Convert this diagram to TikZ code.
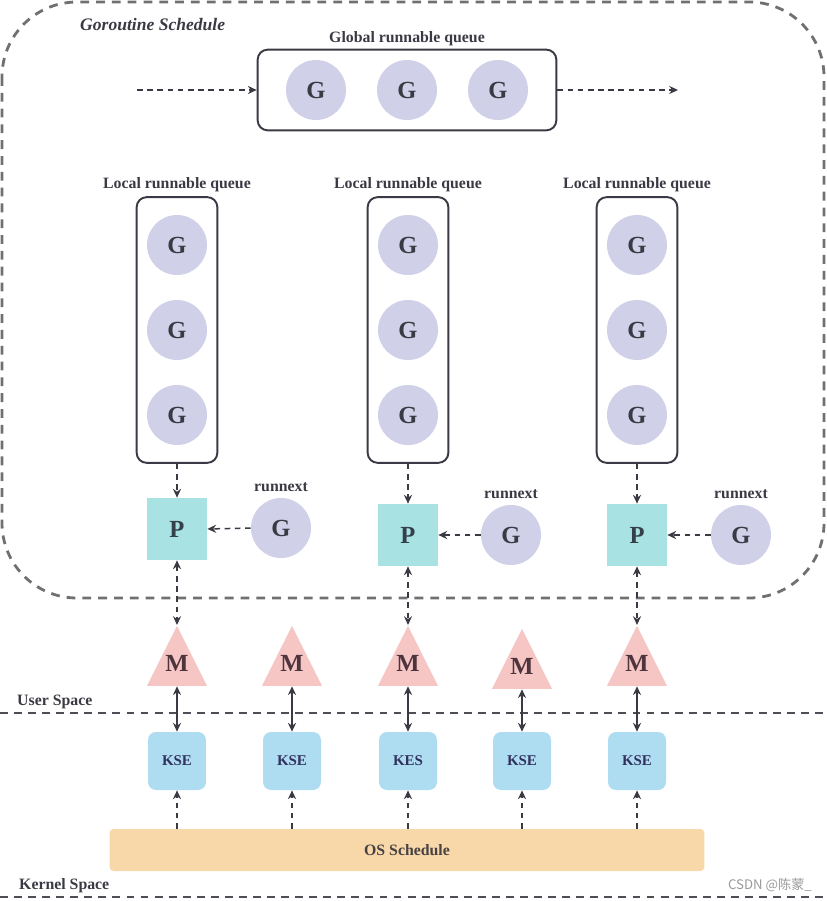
\documentclass[tikz,border=0pt]{standalone}
\usepackage{fontspec}
\setmainfont{Liberation Serif}
\newfontfamily\cjkfont{Noto Sans CJK SC}
\usepackage{xcolor}
\usetikzlibrary{shapes.geometric, arrows.meta, positioning, fit}

\definecolor{gfill}{HTML}{D0D0E8}
\definecolor{pfill}{HTML}{A8E2E2}
\definecolor{mfill}{HTML}{F5C6C4}
\definecolor{kfill}{HTML}{AEDCF0}
\definecolor{osfill}{HTML}{F8D8A8}
\definecolor{inkgrey}{HTML}{3A3A44}
\definecolor{frameg}{HTML}{707070}

\begin{document}
\begin{tikzpicture}[x=0.02cm, y=-0.02cm, >={Stealth[length=5pt, width=4.6pt]},
    gcirc/.style={circle, fill=gfill, minimum size=1.2cm, inner sep=0pt, font=\fontsize{14}{16}\selectfont\bfseries, text=inkgrey},
    pbox/.style={rectangle, fill=pfill, minimum width=1.2cm, minimum height=1.24cm, font=\fontsize{14}{16}\selectfont\bfseries, text=inkgrey!90!teal},
    mtri/.style={isosceles triangle, isosceles triangle stretches, shape border rotate=90, minimum width=1.2cm, minimum height=1.2cm, inner sep=0pt, fill=mfill, font=\fontsize{14}{16}\selectfont\bfseries, text=inkgrey!90!red},
    kbox/.style={rectangle, rounded corners=0.16cm, fill=kfill, minimum size=1.16cm, font=\fontsize{8.5}{10}\selectfont\bfseries, text=inkgrey!85!blue},
    queue/.style={draw=inkgrey, line width=1.1pt, rounded corners=0.2cm},
    lab/.style={font=\fontsize{9}{11}\selectfont\bfseries, text=inkgrey},
    flow/.style={->, dash pattern=on 3.2pt off 2.6pt, line width=0.85pt, draw=inkgrey},
    link/.style={<->, line width=0.85pt, draw=inkgrey},
    spaceline/.style={draw=inkgrey!90, line width=1.1pt, dash pattern=on 4.5pt off 3.5pt}]
    \useasboundingbox (0,0) rectangle (826,901);

    % goroutine schedule frame
    \draw[draw=frameg, line width=1.6pt, dash pattern=on 5pt off 4pt, rounded corners=1.5cm] (2,2) rectangle (824,598);
    \node (title) [anchor=west, font=\fontsize{10}{12}\selectfont\bfseries\itshape, text=inkgrey] at (74,25) {Goroutine Schedule};

    % global runnable queue
    \node (gg1) [gcirc] at (316,90) {G};
    \node (gg2) [gcirc] at (407,90) {G};
    \node (gg3) [gcirc] at (498,90) {G};
    \node (gq) [queue, fit=(gg1)(gg3), inner xsep=0.56cm, inner ysep=0.2cm] {};
    \node (gqlab) [lab, above=-2pt of gq] {Global runnable queue};
    \coordinate (gin) at (137,90);
    \coordinate (gout) at (678,90);
    \draw[flow] (gin) -- (gq.west);
    \draw[flow] (gq.east) -- (gout);

    % local runnable queues
    \node (g11) [gcirc] at (177,245) {G};
    \node (g12) [gcirc] at (177,330) {G};
    \node (g13) [gcirc] at (177,415) {G};
    \node (g21) [gcirc] at (408,245) {G};
    \node (g22) [gcirc] at (408,330) {G};
    \node (g23) [gcirc] at (408,415) {G};
    \node (g31) [gcirc] at (637,245) {G};
    \node (g32) [gcirc] at (637,330) {G};
    \node (g33) [gcirc] at (637,415) {G};
    \node (q1) [queue, fit=(g11)(g13), inner xsep=0.2cm, inner ysep=0.35cm] {};
    \node (q2) [queue, fit=(g21)(g23), inner xsep=0.2cm, inner ysep=0.35cm] {};
    \node (q3) [queue, fit=(g31)(g33), inner xsep=0.2cm, inner ysep=0.35cm] {};
    \node (q1lab) [lab, above=-1pt of q1] {Local runnable queue};
    \node (q2lab) [lab, above=-1pt of q2] {Local runnable queue};
    \node (q3lab) [lab, above=-1pt of q3] {Local runnable queue};

    % processors and runnext
    \node (p1) [pbox] at (177,529) {P};
    \node (p2) [pbox] at (408,535) {P};
    \node (p3) [pbox] at (637,535) {P};
    \node (rn1) [gcirc] at (281,528) {G};
    \node (rn2) [gcirc] at (511,535) {G};
    \node (rn3) [gcirc] at (741,535) {G};
    \node (rn1lab) [lab, above=0pt of rn1] {runnext};
    \node (rn2lab) [lab, above=0pt of rn2] {runnext};
    \node (rn3lab) [lab, above=0pt of rn3] {runnext};

    \draw[flow] (q1.south) -- (p1.north);
    \draw[flow] (q2.south) -- (p2.north);
    \draw[flow] (q3.south) -- (p3.north);
    \draw[flow] (rn1.west) -- (p1.east);
    \draw[flow] (rn2.west) -- (p2.east);
    \draw[flow] (rn3.west) -- (p3.east);

    % machines
    \node (m1) [mtri, anchor=apex] at (177,625) {\raisebox{7pt}{M}};
    \node (m2) [mtri, anchor=apex] at (292,625) {\raisebox{7pt}{M}};
    \node (m3) [mtri, anchor=apex] at (408,625) {\raisebox{7pt}{M}};
    \node (m4) [mtri, anchor=apex] at (522,628) {\raisebox{7pt}{M}};
    \node (m5) [mtri, anchor=apex] at (637,625) {\raisebox{7pt}{M}};

    \draw[flow, <->] (p1.south) -- (m1.apex);
    \draw[flow, <->] (p2.south) -- (m3.apex);
    \draw[flow, <->] (p3.south) -- (m5.apex);

    % user / kernel boundary
    \node (user) [lab, anchor=west] at (11,702) {User Space};
    \draw[spaceline] (0,713) -- (826,713);

    % kernel scheduling entities
    \node (k1) [kbox] at (177,761) {KSE};
    \node (k2) [kbox] at (292,761) {KSE};
    \node (k3) [kbox] at (408,761) {KES};
    \node (k4) [kbox] at (522,761) {KSE};
    \node (k5) [kbox] at (637,761) {KSE};

    \draw[link] (m1.south) -- (k1.north);
    \draw[link] (m2.south) -- (k2.north);
    \draw[link] (m3.south) -- (k3.north);
    \draw[link] (m4.south) -- (k4.north);
    \draw[link] (m5.south) -- (k5.north);

    \node (os) [rectangle, rounded corners=0.08cm, fill=osfill, minimum width=11.9cm, minimum height=0.84cm, font=\fontsize{9}{11}\selectfont\bfseries, text=inkgrey!90!brown] at (407,850) {OS Schedule};

    \draw[flow] (os.north -| k1.south) -- (k1.south);
    \draw[flow] (os.north -| k2.south) -- (k2.south);
    \draw[flow] (os.north -| k3.south) -- (k3.south);
    \draw[flow] (os.north -| k4.south) -- (k4.south);
    \draw[flow] (os.north -| k5.south) -- (k5.south);

    \node (kernel) [lab, anchor=west] at (13,886) {Kernel Space};
    \node (mark) [anchor=east, font=\cjkfont\fontsize{7.5}{9}\selectfont, text=black!40] at (818,885) {CSDN @陈蒙\_};
    \draw[spaceline] (0,897) -- (826,897);
\end{tikzpicture}
\end{document}
